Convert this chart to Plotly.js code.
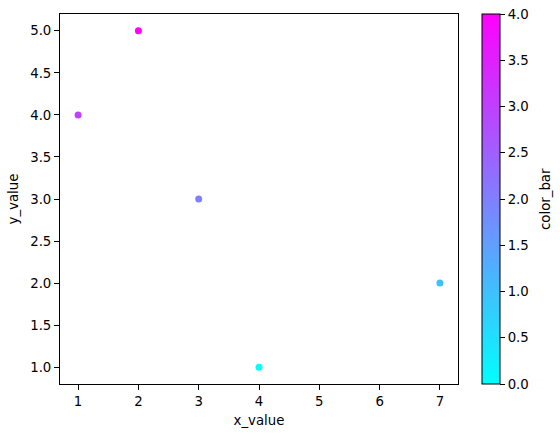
<!DOCTYPE html>
<html>
<head>
<meta charset="utf-8">
<script src="https://cdn.plot.ly/plotly-3.0.1.min.js"></script>
<style>html,body{margin:0;padding:0;background:#fff;}#chart{width:560px;height:436px;}</style>
</head>
<body>
<div id="chart"></div>
<script>
const xValues = [1, 2, 3, 4, 7];
const yValues = [4, 5, 3, 1, 2];
const colorValues = [3, 4, 2, 0, 1];
const xTicks = [1, 2, 3, 4, 5, 6, 7];
const yTicks = [1.0, 1.5, 2.0, 2.5, 3.0, 3.5, 4.0, 4.5, 5.0];
const cTicks = [0.0, 0.5, 1.0, 1.5, 2.0, 2.5, 3.0, 3.5, 4.0];

const font = {family: 'DejaVu Sans, sans-serif', size: 13.3, color: '#000'};

const trace = {
  type: 'scatter',
  mode: 'markers',
  x: xValues,
  y: yValues,
  marker: {
    size: 7,
    color: colorValues,
    cmin: 0, cmax: 4,
    colorscale: [[0, 'rgb(0,255,255)'], [1, 'rgb(255,0,255)']],
    line: {width: 0},
    showscale: true,
    colorbar: {
      x: (482 - 60) / 398, xanchor: 'left', xpad: 0,
      y: 0.5, yanchor: 'middle', ypad: 0,
      len: 1, lenmode: 'fraction',
      thickness: 18, thicknessmode: 'pixels',
      outlinewidth: 1, outlinecolor: '#000',
      tickmode: 'array', tickvals: cTicks,
      ticktext: cTicks.map(v => v.toFixed(1)),
      ticks: 'outside', ticklen: 5, tickwidth: 1, tickcolor: '#000',
      tickfont: font
    }
  },
  hoverinfo: 'x+y'
};

const layout = {
  width: 560, height: 436,
  margin: {l: 60, r: 102, t: 14, b: 52},
  paper_bgcolor: '#fff', plot_bgcolor: '#fff',
  font: font,
  showlegend: false,
  xaxis: {
    range: [0.7, 7.3],
    tickmode: 'array', tickvals: xTicks, ticktext: xTicks.map(String),
    showgrid: false, zeroline: false,
    showline: true, linecolor: '#000', linewidth: 1, mirror: true,
    ticks: 'outside', ticklen: 5, tickwidth: 1, tickcolor: '#000',
    tickfont: font,
    title: {text: 'x_value', font: font, standoff: 7}
  },
  yaxis: {
    range: [0.8, 5.2],
    tickmode: 'array', tickvals: yTicks, ticktext: yTicks.map(v => v.toFixed(1)),
    showgrid: false, zeroline: false,
    showline: true, linecolor: '#000', linewidth: 1, mirror: true,
    ticks: 'outside', ticklen: 5, tickwidth: 1, tickcolor: '#000',
    tickfont: font,
    title: {text: 'y_value', font: font, standoff: 8}
  },
  annotations: [{
    text: 'color_bar', textangle: -90, font: font,
    xref: 'paper', yref: 'paper',
    x: (545 - 60) / 398, y: 0.5,
    xanchor: 'center', yanchor: 'middle', showarrow: false
  }]
};

Plotly.newPlot('chart', [trace], layout, {staticPlot: true, displayModeBar: false});
</script>
</body>
</html>
